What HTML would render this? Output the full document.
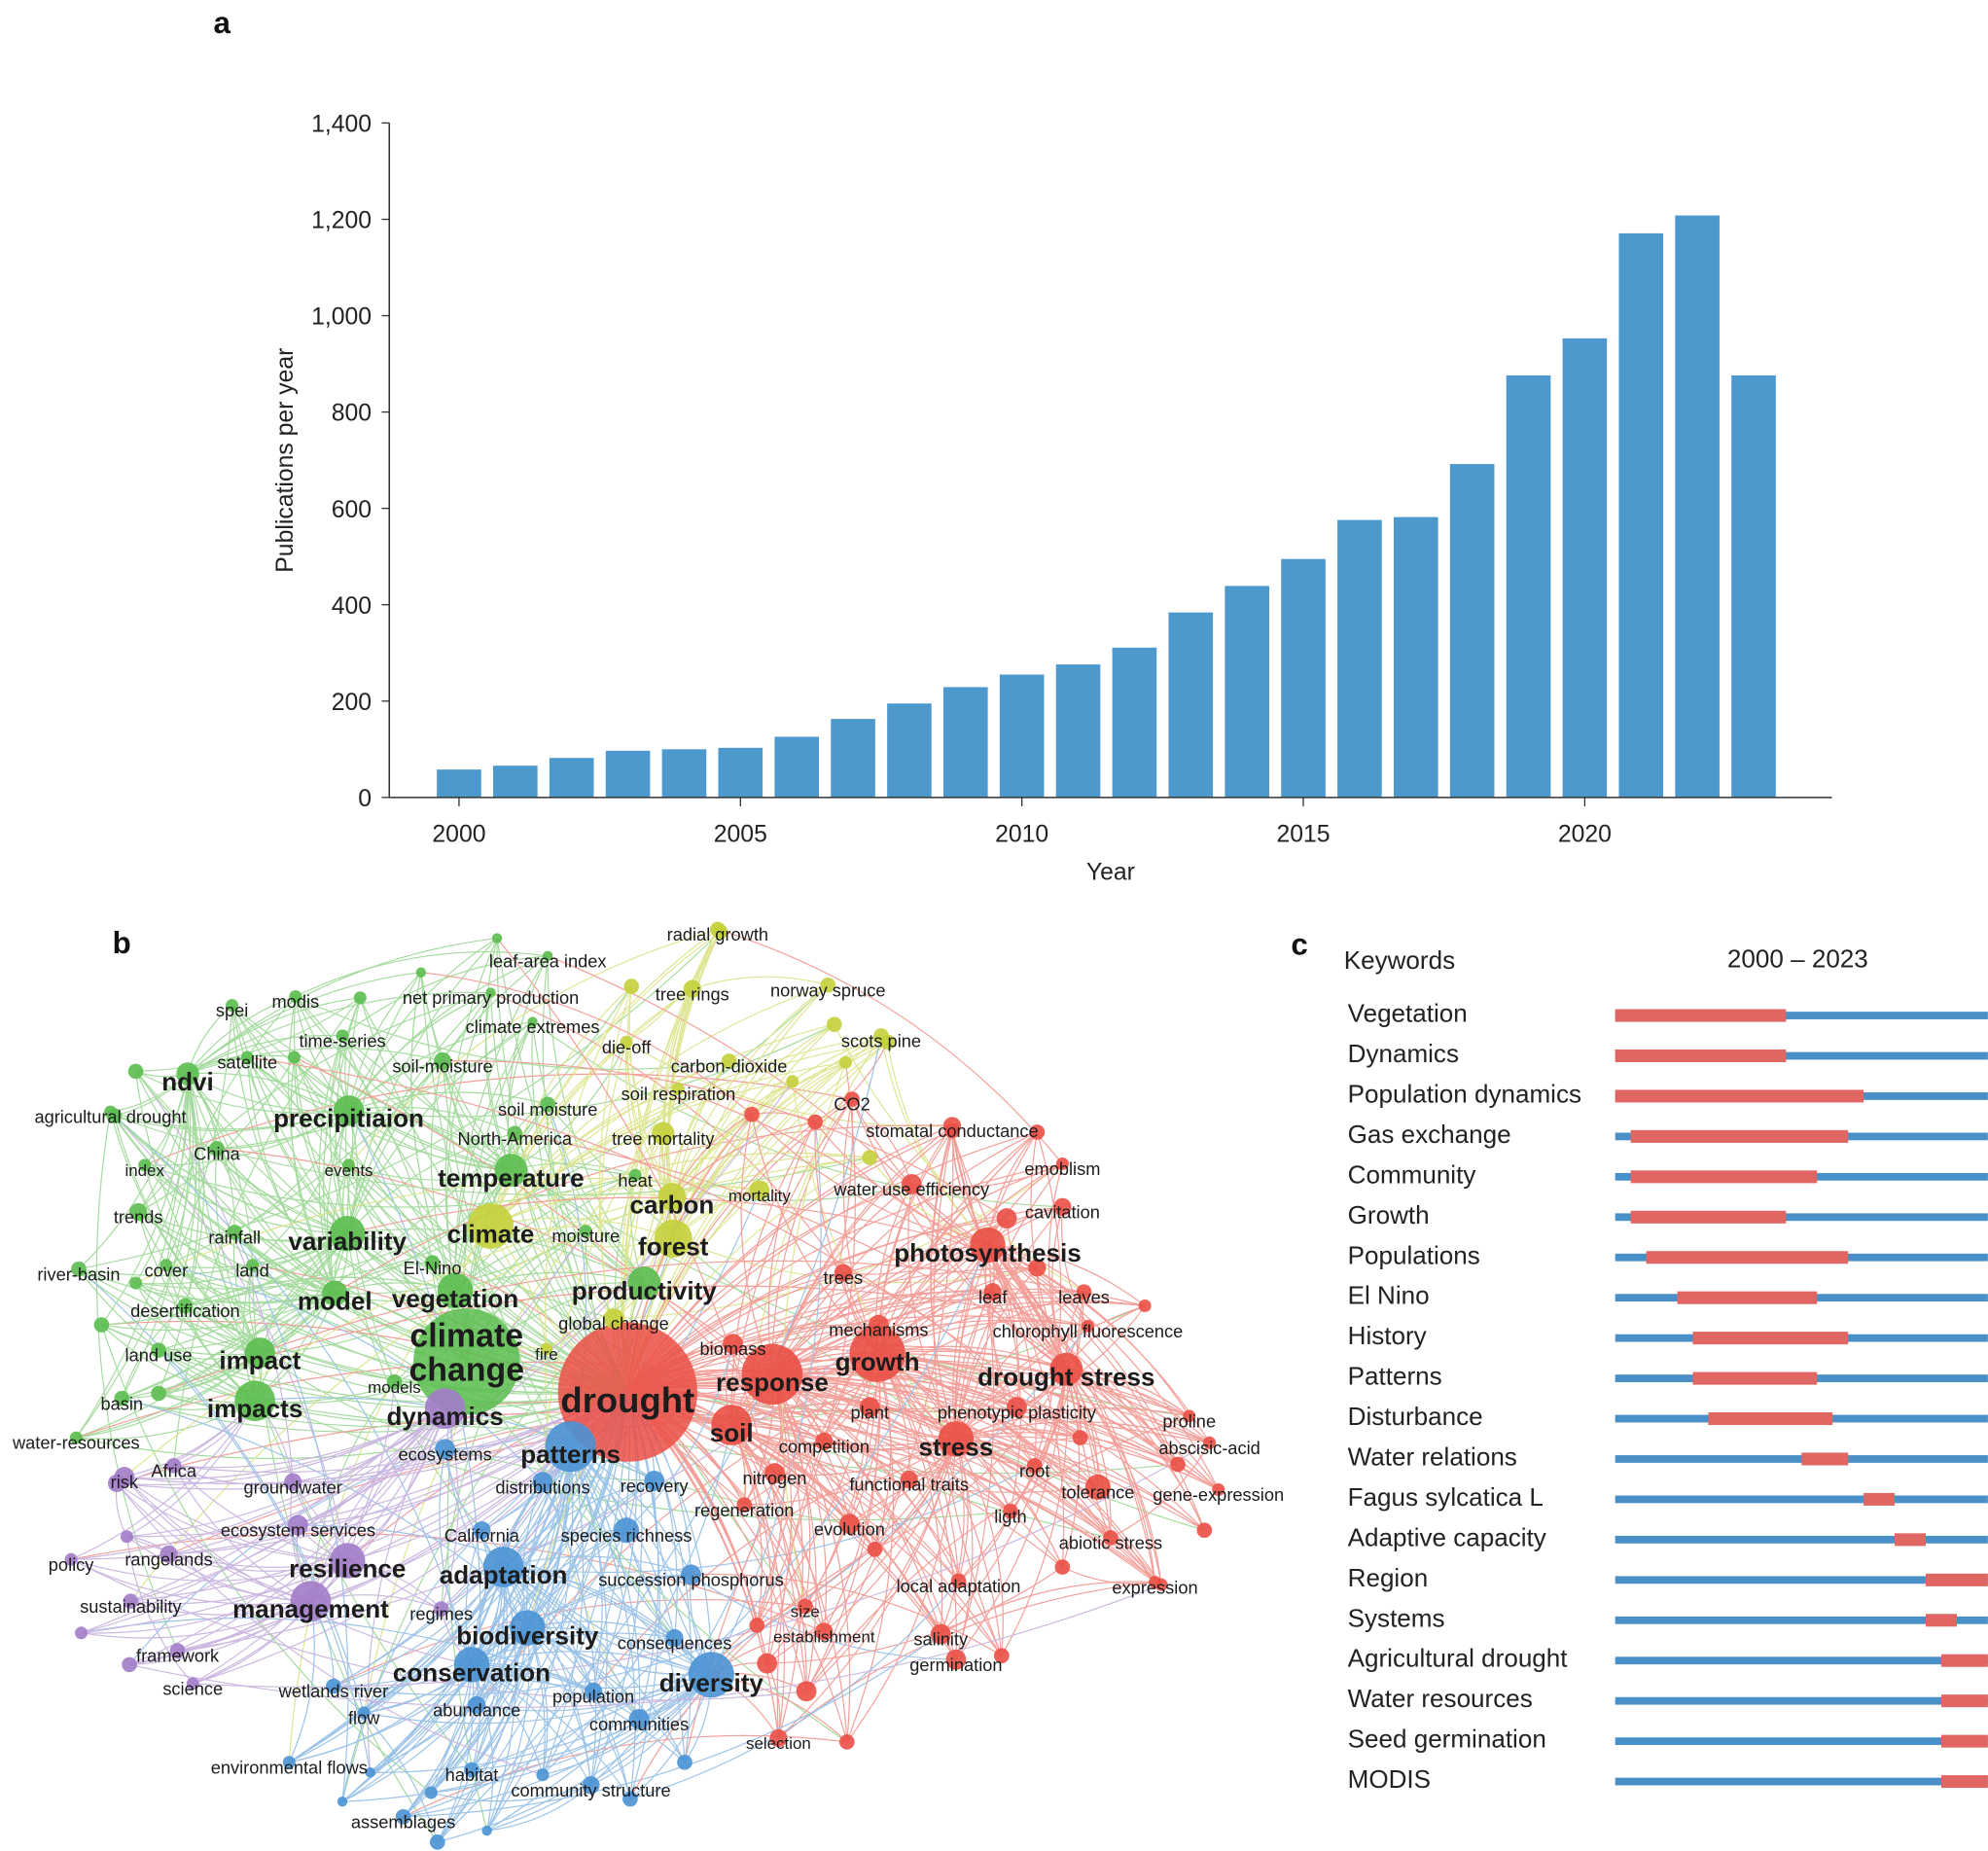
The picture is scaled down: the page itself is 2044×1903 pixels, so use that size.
<!DOCTYPE html>
<html><head><meta charset="utf-8">
<style>
html,body{margin:0;padding:0;background:#fff;}
svg{display:block;font-family:"Liberation Sans",Arial,sans-serif;}
</style></head>
<body>
<svg id="fig" width="2044" height="1903" viewBox="0 0 1568 1460" xmlns="http://www.w3.org/2000/svg">
<g id="panelA"></g>
<g id="panelB"></g>
<g id="panelC"></g>
</svg>
<script>
// ---------- Panel a data ----------
const years = [2000,2001,2002,2003,2004,2005,2006,2007,2008,2009,2010,2011,2012,2013,2014,2015,2016,2017,2018,2019,2020,2021,2022,2023];
const pubs = [58,66,82,97,100,103,126,163,195,229,255,276,311,384,439,495,576,582,692,876,953,1171,1208,876];
const yTicks = [0,200,400,600,800,1000,1200,1400];
const yTickLabels = ["0","200","400","600","800","1,000","1,200","1,400"];
const xTicks = [2000,2005,2010,2015,2020];

// ---------- Panel c data ----------
const keywords = ["Vegetation","Dynamics","Population dynamics","Gas exchange","Community","Growth","Populations","El Nino","History","Patterns","Disturbance","Water relations","Fagus sylcatica L","Adaptive capacity","Region","Systems","Agricultural drought","Water resources","Seed germination","MODIS"];
const burstStart = [2000,2000,2000,2001,2001,2001,2002,2004,2005,2005,2006,2012,2016,2018,2020,2020,2021,2021,2021,2021];
const burstEnd = [2011,2011,2016,2015,2013,2011,2015,2013,2015,2013,2014,2015,2018,2020,2024,2022,2024,2024,2024,2024];

const NS="http://www.w3.org/2000/svg";
function mk(tag,attrs,parent,text){const e=document.createElementNS(NS,tag);for(const k in attrs)e.setAttribute(k,attrs[k]);if(text!==undefined)e.textContent=text;parent.appendChild(e);return e;}

// ---------- Panel a ----------
const A=document.getElementById('panelA');
const y0=629, yPer=(629-97)/1400;
const yScale=v=>y0-v*yPer;
const xScale=yr=>362+(yr-2000)*44.4;
let t=mk('text',{x:175,y:26,'font-size':24,'font-weight':'bold',fill:'#111','text-anchor':'middle'},A,'a');


years.forEach((yr,i)=>{
  const r=mk('rect',{x:xScale(yr)-17.5,y:yScale(pubs[i]),width:35,height:pubs[i]*yPer,fill:'#4d98cd'},A);
  
  
});
let ax=mk('line',{x1:307,y1:97,x2:307,y2:629.5,stroke:'#333','stroke-width':1.2},A);


ax=mk('line',{x1:307,y1:629,x2:1445,y2:629,stroke:'#333','stroke-width':1.2},A);


yTicks.forEach((v,i)=>{
  mk('line',{x1:301,y1:yScale(v),x2:307,y2:yScale(v),stroke:'#333','stroke-width':1},A);
  const l=mk('text',{x:293,y:yScale(v)+7,'font-size':19,fill:'#222','text-anchor':'end'},A,yTickLabels[i]);
  
  
});
xTicks.forEach(v=>{
  mk('line',{x1:xScale(v),y1:629,x2:xScale(v),y2:636,stroke:'#333','stroke-width':1},A);
  const l=mk('text',{x:xScale(v),y:664,'font-size':19,fill:'#222','text-anchor':'middle'},A,String(v));
  
  
});
t=mk('text',{x:876,y:694,'font-size':19,fill:'#222','text-anchor':'middle'},A,'Year');


t=mk('text',{x:0,y:0,'font-size':19,fill:'#222','text-anchor':'middle',transform:'translate(231,363) rotate(-90)'},A,'Publications per year');



// ---------- Panel b (network) ----------
const B=document.getElementById('panelB');
const COL={g:'#5bbd4f',r:'#ea4f45',b:'#4a92d4',p:'#a27cc8',y:'#c4d03a'};
// [text, x, y, fontsize, bold, cluster, nodeRadius]
const nodes=[
["leaf-area index",432,758,14,0,'g',4],["net primary production",387,787,14,0,'g',4],["spei",183,797,14,0,'g',5],["modis",233,790,14,0,'g',5],
["climate extremes",420,810,14,0,'g',4],["time-series",270,821,14,0,'g',5],["satellite",195,838,14,0,'g',5],["soil-moisture",349,841,14,0,'g',7],
["ndvi",148,853,20,1,'g',9],["agricultural drought",87,881,14,0,'g',5],["precipitiaion",275,882,20,1,'g',12],["soil moisture",432,875,14,0,'g',6],
["North-America",406,898,14,0,'g',6],["China",171,910,14,0,'g',6],["index",114,923,13,0,'g',5],["events",275,923,13,0,'g',5],
["temperature",403,929,20,1,'g',13],["heat",501,931,14,0,'g',5],["trends",109,960,14,0,'g',7],["rainfall",185,976,14,0,'g',6],
["variability",274,979,20,1,'g',14],["climate",387,973,20,1,'y',18],["moisture",462,975,14,0,'g',5],["river-basin",62,1005,14,0,'g',6],
["cover",131,1002,14,0,'g',5],["land",199,1002,14,0,'g',5],["El-Nino",341,1000,14,0,'g',6],["model",264,1026,20,1,'g',10],
["vegetation",359,1024,20,1,'g',14],["desertification",146,1034,14,0,'g',6],["global change",484,1044,14,0,'y',8],["climate",368,1053,26,1,'g',0],
["change",368,1080,26,1,'g',42],["land use",125,1069,14,0,'g',6],["impact",205,1073,20,1,'g',12],["fire",431,1068,13,0,'y',5],
["models",311,1094,13,0,'g',6],["basin",96,1107,14,0,'g',6],["impacts",201,1111,20,1,'g',16],["dynamics",351,1117,20,1,'p',16],
["water-resources",60,1138,14,0,'g',5],
["radial growth",566,737,14,0,'y',6],["tree rings",546,784,14,0,'y',7],["norway spruce",653,781,14,0,'y',6],["die-off",494,826,14,0,'y',5],
["carbon-dioxide",575,841,14,0,'y',6],["scots pine",695,821,14,0,'y',6],["soil respiration",535,863,14,0,'y',5],["tree mortality",523,898,14,0,'y',9],
["carbon",530,950,20,1,'y',11],["mortality",599,943,13,0,'y',8],["forest",531,983,20,1,'y',15],["productivity",508,1018,20,1,'g',13],["trees",665,1008,14,0,'r',7],
["CO2",672,871,14,0,'r',6],["stomatal conductance",751,892,14,0,'r',7],["emoblism",838,922,14,0,'r',5],["water use efficiency",719,938,14,0,'r',8],
["cavitation",838,956,14,0,'r',7],["photosynthesis",779,988,20,1,'r',14],["leaf",783,1023,14,0,'r',7],["leaves",855,1023,14,0,'r',6],
["mechanisms",693,1049,14,0,'r',8],["chlorophyll fluorescence",858,1050,14,0,'r',5],["biomass",578,1064,14,0,'r',8],["growth",692,1074,20,1,'r',22],
["drought stress",841,1086,20,1,'r',13],["response",609,1090,20,1,'r',24],["drought",495,1104,28,1,'r',55],["plant",686,1114,14,0,'r',8],
["phenotypic plasticity",802,1114,14,0,'r',8],["proline",938,1121,14,0,'r',5],["soil",577,1130,20,1,'r',16],["competition",650,1141,14,0,'r',7],
["stress",754,1141,20,1,'r',14],["abscisic-acid",954,1142,14,0,'r',5],["nitrogen",611,1166,14,0,'r',8],["root",816,1160,14,0,'r',6],
["functional traits",717,1171,14,0,'r',7],["tolerance",866,1177,14,0,'r',10],["gene-expression",961,1179,14,0,'r',5],["regeneration",587,1191,14,0,'r',6],
["ligth",797,1196,14,0,'r',6],["evolution",670,1206,14,0,'r',8],["abiotic stress",876,1217,14,0,'r',6],["local adaptation",756,1251,14,0,'r',6],
["expression",911,1252,14,0,'r',5],["size",635,1271,13,0,'r',6],["establishment",650,1291,13,0,'r',7],["salinity",742,1293,14,0,'r',8],
["germination",754,1313,14,0,'r',8],["selection",614,1375,13,0,'r',7],
["ecosystems",351,1147,14,0,'b',8],["patterns",450,1147,20,1,'b',20],["distributions",428,1173,14,0,'b',8],["recovery",516,1172,14,0,'b',8],
["California",380,1211,14,0,'b',7],["species richness",494,1211,14,0,'b',10],["adaptation",397,1242,20,1,'b',16],["succession phosphorus",545,1246,14,0,'b',8],
["biodiversity",416,1290,20,1,'b',14],["consequences",532,1296,14,0,'b',7],["conservation",372,1319,20,1,'b',14],["diversity",561,1327,20,1,'b',18],
["wetlands river",263,1334,14,0,'b',6],["population",468,1338,14,0,'b',7],["abundance",376,1349,14,0,'b',7],["flow",287,1355,14,0,'b',5],
["communities",504,1360,14,0,'b',8],["environmental flows",228,1394,14,0,'b',5],["habitat",372,1400,14,0,'b',6],["community structure",466,1412,14,0,'b',7],
["assemblages",318,1437,14,0,'b',6],
["risk",98,1169,14,0,'p',8],["Africa",137,1160,14,0,'p',6],["groundwater",231,1173,14,0,'p',7],["ecosystem services",235,1207,14,0,'p',8],
["policy",56,1234,14,0,'p',5],["rangelands",133,1230,14,0,'p',7],["resilience",274,1237,20,1,'p',14],["sustainability",103,1267,14,0,'p',6],
["management",245,1269,20,1,'p',16],["regimes",348,1273,14,0,'p',6],["framework",140,1306,14,0,'p',6],["science",152,1332,14,0,'p',5]
];
const extra=[[392,740,'g',4],[332,767,'g',4],[284,787,'g',5],[107,845,'g',6],[90,880,'g',6],[232,834,'g',5],[80,1045,'g',6],[125,1099,'g',6],[107,1012,'g',5],
[498,778,'y',6],[568,735,'y',6],[658,808,'y',6],[625,853,'y',5],[667,838,'y',5],[700,822,'y',6],[686,913,'y',6],
[593,879,'r',6],[643,885,'r',6],[751,892,'r',6],[818,893,'r',6],[794,961,'r',8],[818,1000,'r',7],[903,1030,'r',5],[929,1155,'r',6],[950,1207,'r',6],[916,1250,'r',5],
[838,1236,'r',6],[790,1306,'r',6],[668,1374,'r',6],[636,1334,'r',8],[597,1282,'r',6],[605,1312,'r',8],[690,1222,'r',6],[852,1134,'r',6],
[270,1421,'b',4],[292,1398,'b',4],[345,1453,'b',6],[384,1444,'b',4],[428,1400,'b',5],[497,1419,'b',6],[540,1390,'b',6],[340,1414,'b',5],
[100,1212,'p',5],[64,1288,'p',5],[102,1313,'p',6],[92,1170,'p',7]];
const hubs=nodes.filter(n=>n[4]===1);
const drought=nodes.find(n=>n[0]==="drought");
const gEdges=mk('g',{fill:'none','stroke-width':0.9,opacity:0.55},B);


const pts=nodes.filter(n=>n[6]>0).map(n=>[n[1],n[2]+(n[3]>16?-6:-4),n[5],n[6]]).concat(extra);
function edge(a,b,c){const mx=(a[0]+b[0])/2,my=(a[1]+b[1])/2,dx=b[0]-a[0],dy=b[1]-a[1];
  mk('path',{d:`M${a[0]},${a[1]} Q${mx-dy*0.15},${my+dx*0.15} ${b[0]},${b[1]}`,stroke:c},gEdges);}
pts.forEach((p,i)=>{
  const hs=hubs.map(h=>[h[1],h[2]-6,h[5]]).sort((a,b)=>((a[0]-p[0])**2+(a[1]-p[1])**2)-((b[0]-p[0])**2+(b[1]-p[1])**2));
  let cnt=0;
  for(const h of hs){ if(h[2]===p[2]||cnt<1){edge(p,h,COL[p[2]]);cnt++;} if(cnt>=5)break; }
  edge(p,[drought[1],drought[2]-8],COL[p[2]]);
  const q=pts[(i*7+3)%pts.length]; if(q[2]===p[2]) edge(p,q,COL[p[2]]);
  const q2=pts[(i*13+5)%pts.length]; edge(p,q2,COL[p[2]]);
});
const gNodes=mk('g',{},B);


pts.slice().sort((a,b)=>b[3]-a[3]).forEach(p=>{
  const c=mk('circle',{cx:p[0],cy:p[1],r:p[3],fill:COL[p[2]],opacity:p[3]>30?0.85:0.9},gNodes);
  
  
});
const gLab=mk('g',{fill:'#1c1c1c','text-anchor':'middle'},B);
nodes.forEach(n=>{
  const l=mk('text',{x:n[1],y:n[2]+n[3]*0.35,'font-size':n[3],'font-weight':n[4]?'bold':'normal'},gLab,n[0]);
  
  
});
t=mk('text',{x:96,y:752,'font-size':24,'font-weight':'bold',fill:'#111','text-anchor':'middle'},B,'b');



// ---------- Panel c ----------
const C=document.getElementById('panelC');
t=mk('text',{x:1025,y:753,'font-size':24,'font-weight':'bold',fill:'#111','text-anchor':'middle'},C,'c');


t=mk('text',{x:1060,y:764,'font-size':20,fill:'#222'},C,'Keywords');


t=mk('text',{x:1418,y:763,'font-size':20,fill:'#222','text-anchor':'middle'},C,'2000 – 2023');


const cx=yr=>1274+(yr-2000)*12.25;
keywords.forEach((k,i)=>{
  const y=800+i*31.8;
  const l=mk('text',{x:1063,y:y+6,'font-size':20,fill:'#222'},C,k);
  
  
  const bl=mk('rect',{x:1274,y:y-2,width:294,height:6,fill:'#4a90c8'},C);
  
  
  const rb=mk('rect',{x:cx(burstStart[i]),y:y-4,width:cx(burstEnd[i])-cx(burstStart[i]),height:10,fill:'#e06661'},C);
  
  
});
</script>
</body></html>
